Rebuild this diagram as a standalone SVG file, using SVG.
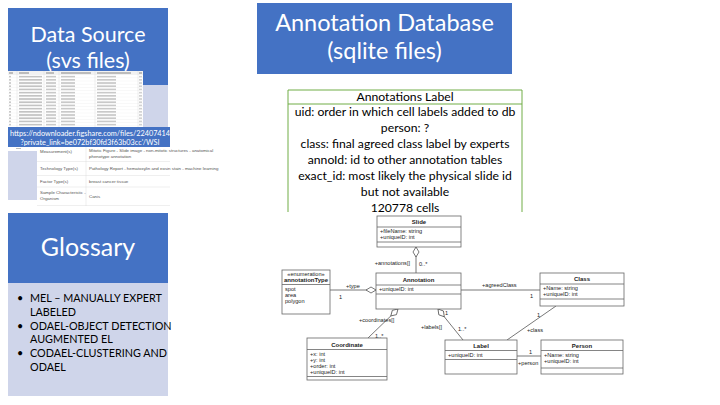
<svg xmlns="http://www.w3.org/2000/svg" width="720" height="405" viewBox="0 0 720 405">
  <defs>
    <style>
      .hdr{fill:#4472C4}
      .pane{fill:#CFD5EA}
      .title{font-family:Lato,"Liberation Sans",sans-serif;fill:#fff;text-anchor:middle}
      .body{font-family:Lato,"Liberation Sans",sans-serif;fill:#000}
      .meta{font-family:"Liberation Sans",Arial,sans-serif;font-size:4.4px;fill:#555}
      .uml{font-family:"Liberation Sans",Arial,sans-serif;font-size:5.6px;fill:#222}
      .umlb{font-family:"Liberation Sans",Arial,sans-serif;font-size:6px;font-weight:bold;fill:#222;text-anchor:middle}
      .box{fill:#fff;stroke:#666;stroke-width:0.8}
      .sep{stroke:#666;stroke-width:0.8}
      .conn{stroke:#555;stroke-width:0.8;fill:none}
      .grid{stroke:#d6d6d6;stroke-width:0.4}
    </style>
    <marker id="diamond" markerUnits="userSpaceOnUse" markerWidth="12" markerHeight="8" viewBox="-1 -1 12 8" refX="0" refY="3" orient="auto">
      <path d="M0,3 L5,0 L10,3 L5,6 Z" fill="#fff" stroke="#555" stroke-width="0.8"/>
    </marker>
    <!-- one spreadsheet row: blurred cell contents -->
    <pattern id="sheetRows" patternUnits="userSpaceOnUse" x="8" y="75" width="135" height="3.2">
      <rect x="0" y="0" width="135" height="3.2" fill="#fff"/>
      <line x1="0" y1="3.1" x2="135" y2="3.1" stroke="#e2e2e2" stroke-width="0.4"/>
      <rect x="1" y="1" width="2" height="1.2" fill="#b8b8b8"/>
      <rect x="11" y="1" width="23" height="1.2" fill="#b0b0b0"/>
      <rect x="38" y="1" width="10" height="1.2" fill="#b8b8b8"/>
      <rect x="53" y="1" width="14" height="1.2" fill="#b8b8b8"/>
      <rect x="89" y="1" width="19" height="1.2" fill="#b8b8b8"/>
      <rect x="131" y="1" width="3" height="1.2" fill="#c4c4c4"/>
    </pattern>
  </defs>

  <rect width="720" height="405" fill="#fff"/>

  <!-- Data source panel -->
  <g id="data-source">
    <rect class="hdr" x="8" y="8" width="160" height="77"/>
    <rect class="pane" x="8" y="85" width="160" height="115"/>
    <text class="title" font-size="21.5" x="88" y="42">Data Source</text>
    <text class="title" font-size="21.5" x="88" y="68">(svs files)</text>
    <!-- spreadsheet thumbnail -->
    <rect x="8" y="71" width="135" height="80" fill="#fff"/>
    <rect x="8" y="71" width="135" height="4" fill="#f2f2f2"/>
    <rect x="9" y="72.4" width="4" height="1.2" fill="#999"/>
    <rect x="19" y="72.4" width="10" height="1.2" fill="#999"/>
    <rect x="46" y="72.4" width="8" height="1.2" fill="#999"/>
    <rect x="61" y="72.4" width="30" height="1.2" fill="#999"/>
    <rect x="97" y="72.4" width="34" height="1.2" fill="#999"/>
    <rect x="139" y="72.4" width="3" height="1.2" fill="#999"/>
    <rect x="8" y="75" width="135" height="52" fill="url(#sheetRows)"/>
    <line class="grid" x1="17" y1="71" x2="17" y2="127"/>
    <line class="grid" x1="44" y1="71" x2="44" y2="127"/>
    <line class="grid" x1="59" y1="71" x2="59" y2="127"/>
    <line class="grid" x1="95" y1="71" x2="95" y2="127"/>
    <line class="grid" x1="138" y1="71" x2="138" y2="127"/>
    <rect x="16" y="148" width="5" height="0.8" fill="#aaa"/>
    <!-- download link -->
    <rect class="hdr" x="8" y="127" width="162" height="20"/>
    <text class="title" font-size="7.3" x="90" y="135.5">https://ndownloader.figshare.com/files/22407414</text>
    <text class="title" font-size="7.3" x="90" y="144.5">?private_link=be072bf30fd3f63b03cc'/WSI</text>
    <!-- metadata table -->
    <g id="metadata-table">
      <rect x="37" y="147" width="133" height="59" fill="#fff"/>
      <line class="grid" x1="37" y1="161.5" x2="170" y2="161.5"/>
      <line class="grid" x1="37" y1="175.5" x2="170" y2="175.5"/>
      <line class="grid" x1="37" y1="187" x2="170" y2="187"/>
      <line class="grid" x1="37" y1="205.5" x2="170" y2="205.5"/>
      <line class="grid" x1="86" y1="147" x2="86" y2="206"/>
      <text class="meta" x="40" y="153">Measurement(s)</text>
      <text class="meta" x="89" y="152">Mitotic Figure - Slide image - non-mitotic structures - anatomical</text>
      <text class="meta" x="89" y="158">phenotype annotation</text>
      <text class="meta" x="40" y="170">Technology Type(s)</text>
      <text class="meta" x="89" y="170">Pathology Report - hematoxylin and eosin stain - machine learning</text>
      <text class="meta" x="40" y="182.5">Factor Type(s)</text>
      <text class="meta" x="89" y="182.5">breast cancer tissue</text>
      <text class="meta" x="40" y="194">Sample Characteristic -</text>
      <text class="meta" x="40" y="200">Organism</text>
      <text class="meta" x="89" y="198">Canis</text>
    </g>
  </g>

  <!-- Glossary panel -->
  <g id="glossary">
    <rect class="hdr" x="8" y="213" width="160" height="70"/>
    <rect class="pane" x="8" y="283" width="160" height="113"/>
    <text class="title" font-size="25" x="88" y="256">Glossary</text>
    <g class="body" font-size="10.8">
      <text x="17" y="302">•</text><text x="30" y="302">MEL – MANUALLY EXPERT</text>
      <text x="30" y="315.5">LABELED</text>
      <text x="17" y="329.5">•</text><text x="30" y="329.5">ODAEL-OBJECT DETECTION</text>
      <text x="30" y="343">AUGMENTED EL</text>
      <text x="17" y="357">•</text><text x="30" y="357">CODAEL-CLUSTERING AND</text>
      <text x="30" y="370.5">ODAEL</text>
    </g>
  </g>

  <!-- Annotation database header -->
  <g id="annotation-database">
    <rect class="hdr" x="257" y="3" width="255" height="71"/>
    <text class="title" font-size="23.5" x="384.5" y="31">Annotation Database</text>
    <text class="title" font-size="23.5" x="384.5" y="59">(sqlite files)</text>
  </g>

  <!-- Annotations Label table description -->
  <g id="annotations-label">
    <path d="M288,212 V90 H522 V212 M288,104 H522" fill="none" stroke="#70AD47" stroke-width="1"/>
    <g class="body" font-size="12.2" text-anchor="middle">
      <text x="405" y="101">Annotations Label</text>
      <text x="405" y="116">uid: order in which cell labels added to db</text>
      <text x="405" y="132">person: ?</text>
      <text x="405" y="148">class: final agreed class label by experts</text>
      <text x="405" y="164">annoId: id to other annotation tables</text>
      <text x="405" y="180">exact_id: most likely the physical slide id</text>
      <text x="405" y="196">but not available</text>
      <text x="405" y="212">120778 cells</text>
    </g>
  </g>

  <!-- UML class diagram: connectors -->
  <g id="connectors">
    <path class="conn" d="M416,247 V273" marker-start="url(#diamond)"/>
    <path class="conn" d="M376,290 H330" marker-start="url(#diamond)"/>
    <path class="conn" d="M461,290 H540"/>
    <path class="conn" d="M398,309 L368,338" marker-start="url(#diamond)"/>
    <path class="conn" d="M438,309 L463,340" marker-start="url(#diamond)"/>
    <path class="conn" d="M556,306 L507,340"/>
    <path class="conn" d="M517,356 H541"/>
    <g class="uml">
      <text x="410" y="264.5" text-anchor="end">+annotations[]</text>
      <text x="419" y="265.5">0..*</text>
      <text x="346" y="288">+type</text>
      <text x="339" y="298.5">1</text>
      <text x="482" y="287">+agreedClass</text>
      <text x="530" y="298">1</text>
      <text x="359" y="322">+coordinates[]</text>
      <text x="375" y="338">1..*</text>
      <text x="421" y="329">+labels[]</text>
      <text x="445" y="315">1</text>
      <text x="458" y="331">1..*</text>
      <text x="537" y="316.5">1</text>
      <text x="527" y="331.5">+class</text>
      <text x="529" y="353.5">1</text>
      <text x="518" y="365">+person</text>
    </g>
  </g>

  <!-- UML class diagram: classes -->
  <g id="slide">
    <rect class="box" x="377" y="216" width="84" height="31"/>
    <text class="umlb" x="419" y="224">Slide</text>
    <line class="sep" x1="377" y1="227" x2="461" y2="227"/>
    <text class="uml" x="380" y="233">+fileName: string</text>
    <text class="uml" x="380" y="239">+uniqueID: int</text>
    <line class="sep" x1="377" y1="242" x2="461" y2="242"/>
  </g>
  <g id="annotation">
    <rect class="box" x="376" y="273" width="85" height="36"/>
    <text class="umlb" x="418.5" y="281.5">Annotation</text>
    <line class="sep" x1="376" y1="285" x2="461" y2="285"/>
    <text class="uml" x="379" y="291">+uniqueID: int</text>
    <line class="sep" x1="376" y1="294" x2="461" y2="294"/>
  </g>
  <g id="annotation-type">
    <rect class="box" x="282" y="270" width="48" height="44"/>
    <text class="uml" x="306" y="275.5" text-anchor="middle" font-size="4.8">«enumeration»</text>
    <text class="umlb" x="306" y="282">annotationType</text>
    <line class="sep" x1="282" y1="284.5" x2="330" y2="284.5"/>
    <text class="uml" x="285" y="291">spot</text>
    <text class="uml" x="285" y="297">area</text>
    <text class="uml" x="285" y="303">polygon</text>
  </g>
  <g id="class">
    <rect class="box" x="540" y="273" width="84" height="33"/>
    <text class="umlb" x="582" y="281">Class</text>
    <line class="sep" x1="540" y1="284" x2="624" y2="284"/>
    <text class="uml" x="543" y="290">+Name: string</text>
    <text class="uml" x="543" y="296">+uniqueID: int</text>
    <line class="sep" x1="540" y1="299" x2="624" y2="299"/>
  </g>
  <g id="coordinate">
    <rect class="box" x="307" y="338" width="80" height="42"/>
    <text class="umlb" x="347" y="346.5">Coordinate</text>
    <line class="sep" x1="307" y1="349.5" x2="387" y2="349.5"/>
    <text class="uml" x="310" y="355.5">+x: int</text>
    <text class="uml" x="310" y="361.5">+y: int</text>
    <text class="uml" x="310" y="367.5">+order: int</text>
    <text class="uml" x="310" y="373.5">+uniqueID: int</text>
    <line class="sep" x1="307" y1="376.5" x2="387" y2="376.5"/>
  </g>
  <g id="label">
    <rect class="box" x="445" y="340" width="72" height="34"/>
    <text class="umlb" x="481" y="348">Label</text>
    <line class="sep" x1="445" y1="350.5" x2="517" y2="350.5"/>
    <text class="uml" x="448" y="356.5">+uniqueID: int</text>
    <line class="sep" x1="445" y1="359.5" x2="517" y2="359.5"/>
  </g>
  <g id="person">
    <rect class="box" x="541" y="340" width="82" height="34"/>
    <text class="umlb" x="582" y="348">Person</text>
    <line class="sep" x1="541" y1="350.5" x2="623" y2="350.5"/>
    <text class="uml" x="544" y="356.5">+Name: string</text>
    <text class="uml" x="544" y="362.5">+uniqueID: int</text>
    <line class="sep" x1="541" y1="368" x2="623" y2="368"/>
  </g>
</svg>
